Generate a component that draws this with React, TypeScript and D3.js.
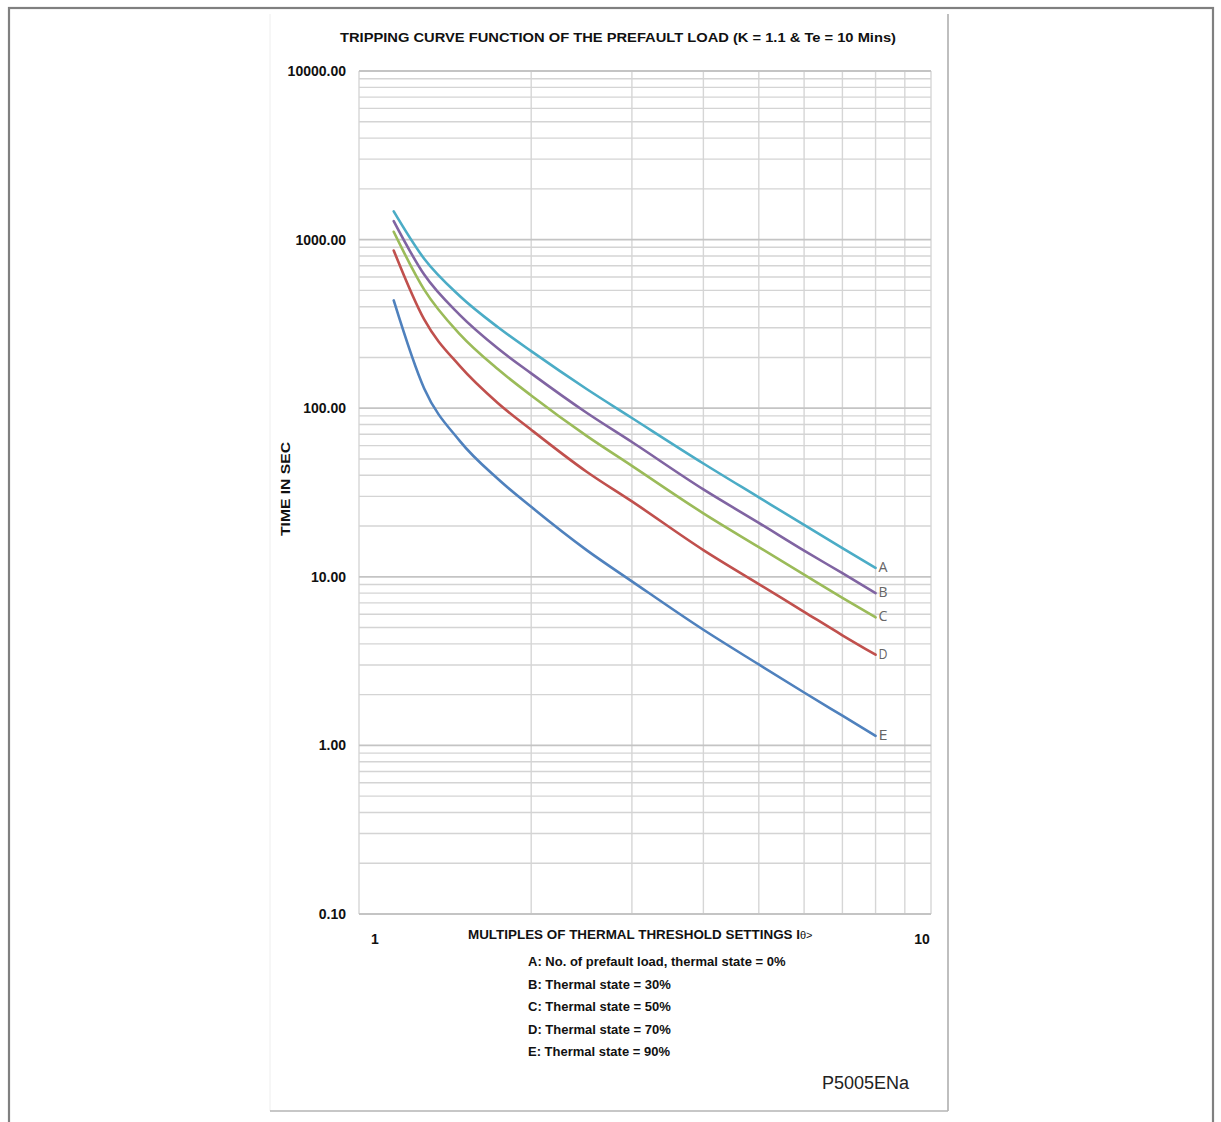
import React from "react";
import * as d3 from "d3";

// ---- data ----
const currentMultiples = [1.15, 1.3, 1.5, 1.75, 2, 2.5, 3, 4, 5, 6, 7, 8];
const seriesA = [1470, 770, 463, 302, 218, 130, 87.5, 47, 29.6, 20.3, 14.8, 11.3];
const seriesB = [1288, 620, 358, 226, 161, 94, 63, 33, 20.9, 14.3, 10.5, 8.0];
const seriesC = [1113, 505, 275, 170, 119, 68.5, 45.5, 23.8, 15, 10.3, 7.5, 5.75];
const seriesD = [862, 336, 178, 107, 74.5, 42, 28, 14.4, 9.05, 6.2, 4.5, 3.45];
const seriesE = [436, 131, 64, 38, 26, 14.4, 9.4, 4.85, 3.02, 2.06, 1.5, 1.14];

const seriesNames = ["A", "B", "C", "D", "E"];
const seriesColors = ["#4bacc6", "#8064a2", "#9bbb59", "#c0504d", "#4f81bd"];
const seriesValues = [seriesA, seriesB, seriesC, seriesD, seriesE];

const yTickValues = [10000, 1000, 100, 10, 1, 0.1];
const xTickValues = [1, 10];

const legendLines = [
  "A: No. of prefault load, thermal state = 0%",
  "B: Thermal state = 30%",
  "C: Thermal state = 50%",
  "D: Thermal state = 70%",
  "E: Thermal state = 90%",
];

const titleText = "TRIPPING CURVE FUNCTION OF THE PREFAULT LOAD (K = 1.1 & Te = 10 Mins)";
const xTitleText = "MULTIPLES OF THERMAL THRESHOLD SETTINGS I";
const xTitleSuffix = "\u03b8>";
const yTitleText = "TIME IN SEC";
const figureCode = "P5005ENa";

const W = 1221;
const H = 1122;
const plot = { left: 359, right: 931, top: 71, bottom: 914 };

export default function App() {
  const x = d3.scaleLog().domain([1, 10]).range([plot.left, plot.right]);
  const y = d3.scaleLog().domain([0.1, 10000]).range([plot.bottom, plot.top]);

  const hGrid: { v: number; major: boolean }[] = [];
  for (let e = -1; e <= 3; e++) {
    for (let k = 1; k <= 9; k++) {
      hGrid.push({ v: k * Math.pow(10, e), major: k === 1 });
    }
  }
  hGrid.push({ v: 10000, major: true });
  const vGrid = d3.range(1, 11);

  const line = d3
    .line<[number, number]>()
    .x((d) => x(d[0]))
    .y((d) => y(d[1]))
    .curve(d3.curveMonotoneX);

  const font = "'Liberation Sans', Arial, sans-serif";

  return (
    <svg
      width={W}
      height={H}
      style={{ position: "absolute", left: 0, top: 0, background: "#fff" }}
      fontFamily={font}
    >
      <rect x={0} y={0} width={W} height={H} fill="#fff" />
      {/* outer frame */}
      <rect x={9} y={8} width={1204} height={1200} fill="none" stroke="#808080" strokeWidth={2.2} />
      {/* inner panel edges */}
      <line x1={270} y1={14} x2={270} y2={1111} stroke="#eeeeee" strokeWidth={1} />
      <line x1={948} y1={14} x2={948} y2={1111} stroke="#aaaaaa" strokeWidth={1.5} />
      <line x1={270} y1={1111} x2={948} y2={1111} stroke="#b4b4b4" strokeWidth={1.5} />

      {/* title */}
      <text
        x={618}
        y={42}
        textAnchor="middle"
        fontSize={13.5}
        fontWeight="bold"
        textLength={556}
        lengthAdjust="spacingAndGlyphs"
        fill="#111"
      >
        {titleText}
      </text>

      {/* grid */}
      <g>
        {vGrid.map((v) => (
          <line
            key={"v" + v}
            x1={x(v)}
            x2={x(v)}
            y1={plot.top}
            y2={plot.bottom}
            stroke="#d6d6d6"
            strokeWidth={1.4}
          />
        ))}
        {hGrid.map((g, i) => (
          <line
            key={"h" + i}
            x1={plot.left}
            x2={plot.right}
            y1={y(g.v)}
            y2={y(g.v)}
            stroke={g.major ? "#c4c4c4" : "#d4d4d4"}
            strokeWidth={g.major ? 1.8 : 1.4}
          />
        ))}
      </g>

      {/* y tick labels */}
      {yTickValues.map((v) => (
        <text
          key={"yl" + v}
          x={346}
          y={y(v) + 5}
          textAnchor="end"
          fontSize={14}
          fontWeight="bold"
          fill="#111"
        >
          {v.toFixed(2)}
        </text>
      ))}

      {/* x tick labels */}
      {xTickValues.map((v, i) => (
        <text
          key={"xl" + v}
          x={x(v) + (i === 0 ? 16 : -9)}
          y={944}
          textAnchor="middle"
          fontSize={14}
          fontWeight="bold"
          fill="#111"
        >
          {v}
        </text>
      ))}

      {/* axis titles */}
      <text
        transform={`translate(290,489) rotate(-90)`}
        textAnchor="middle"
        fontSize={13.5}
        fontWeight="bold"
        textLength={94}
        lengthAdjust="spacingAndGlyphs"
        fill="#111"
      >
        {yTitleText}
      </text>
      <text x={468} y={939} fontSize={12.5} fontWeight="bold" fill="#111">
        <tspan textLength={332} lengthAdjust="spacingAndGlyphs">{xTitleText}</tspan>
        <tspan fontWeight="normal" fontSize={11}>{xTitleSuffix}</tspan>
      </text>

      {/* curves */}
      {seriesValues.map((vals, si) => {
        const pts: [number, number][] = currentMultiples.map((m, i) => [m, vals[i]]);
        const last = pts[pts.length - 1];
        return (
          <g key={"s" + si}>
            <path
              d={line(pts) || ""}
              fill="none"
              stroke={seriesColors[si]}
              strokeWidth={2.6}
              strokeLinejoin="round"
              strokeLinecap="round"
            />
            <text
              x={x(last[0]) + 3}
              y={y(last[1]) + 4}
              fontSize={14}
              fontFamily="'Open Sans', 'DejaVu Sans', sans-serif"
              textLength={9}
              lengthAdjust="spacingAndGlyphs"
              fill="#666"
            >
              {seriesNames[si]}
            </text>
          </g>
        );
      })}

      {/* legend text */}
      {legendLines.map((t, i) => (
        <text
          key={"lg" + i}
          x={528}
          y={966 + i * 22.5}
          fontSize={13}
          fontWeight="bold"
          fill="#111"
        >
          {t}
        </text>
      ))}

      <text x={822} y={1089} fontSize={18} fill="#222">
        {figureCode}
      </text>
    </svg>
  );
}
